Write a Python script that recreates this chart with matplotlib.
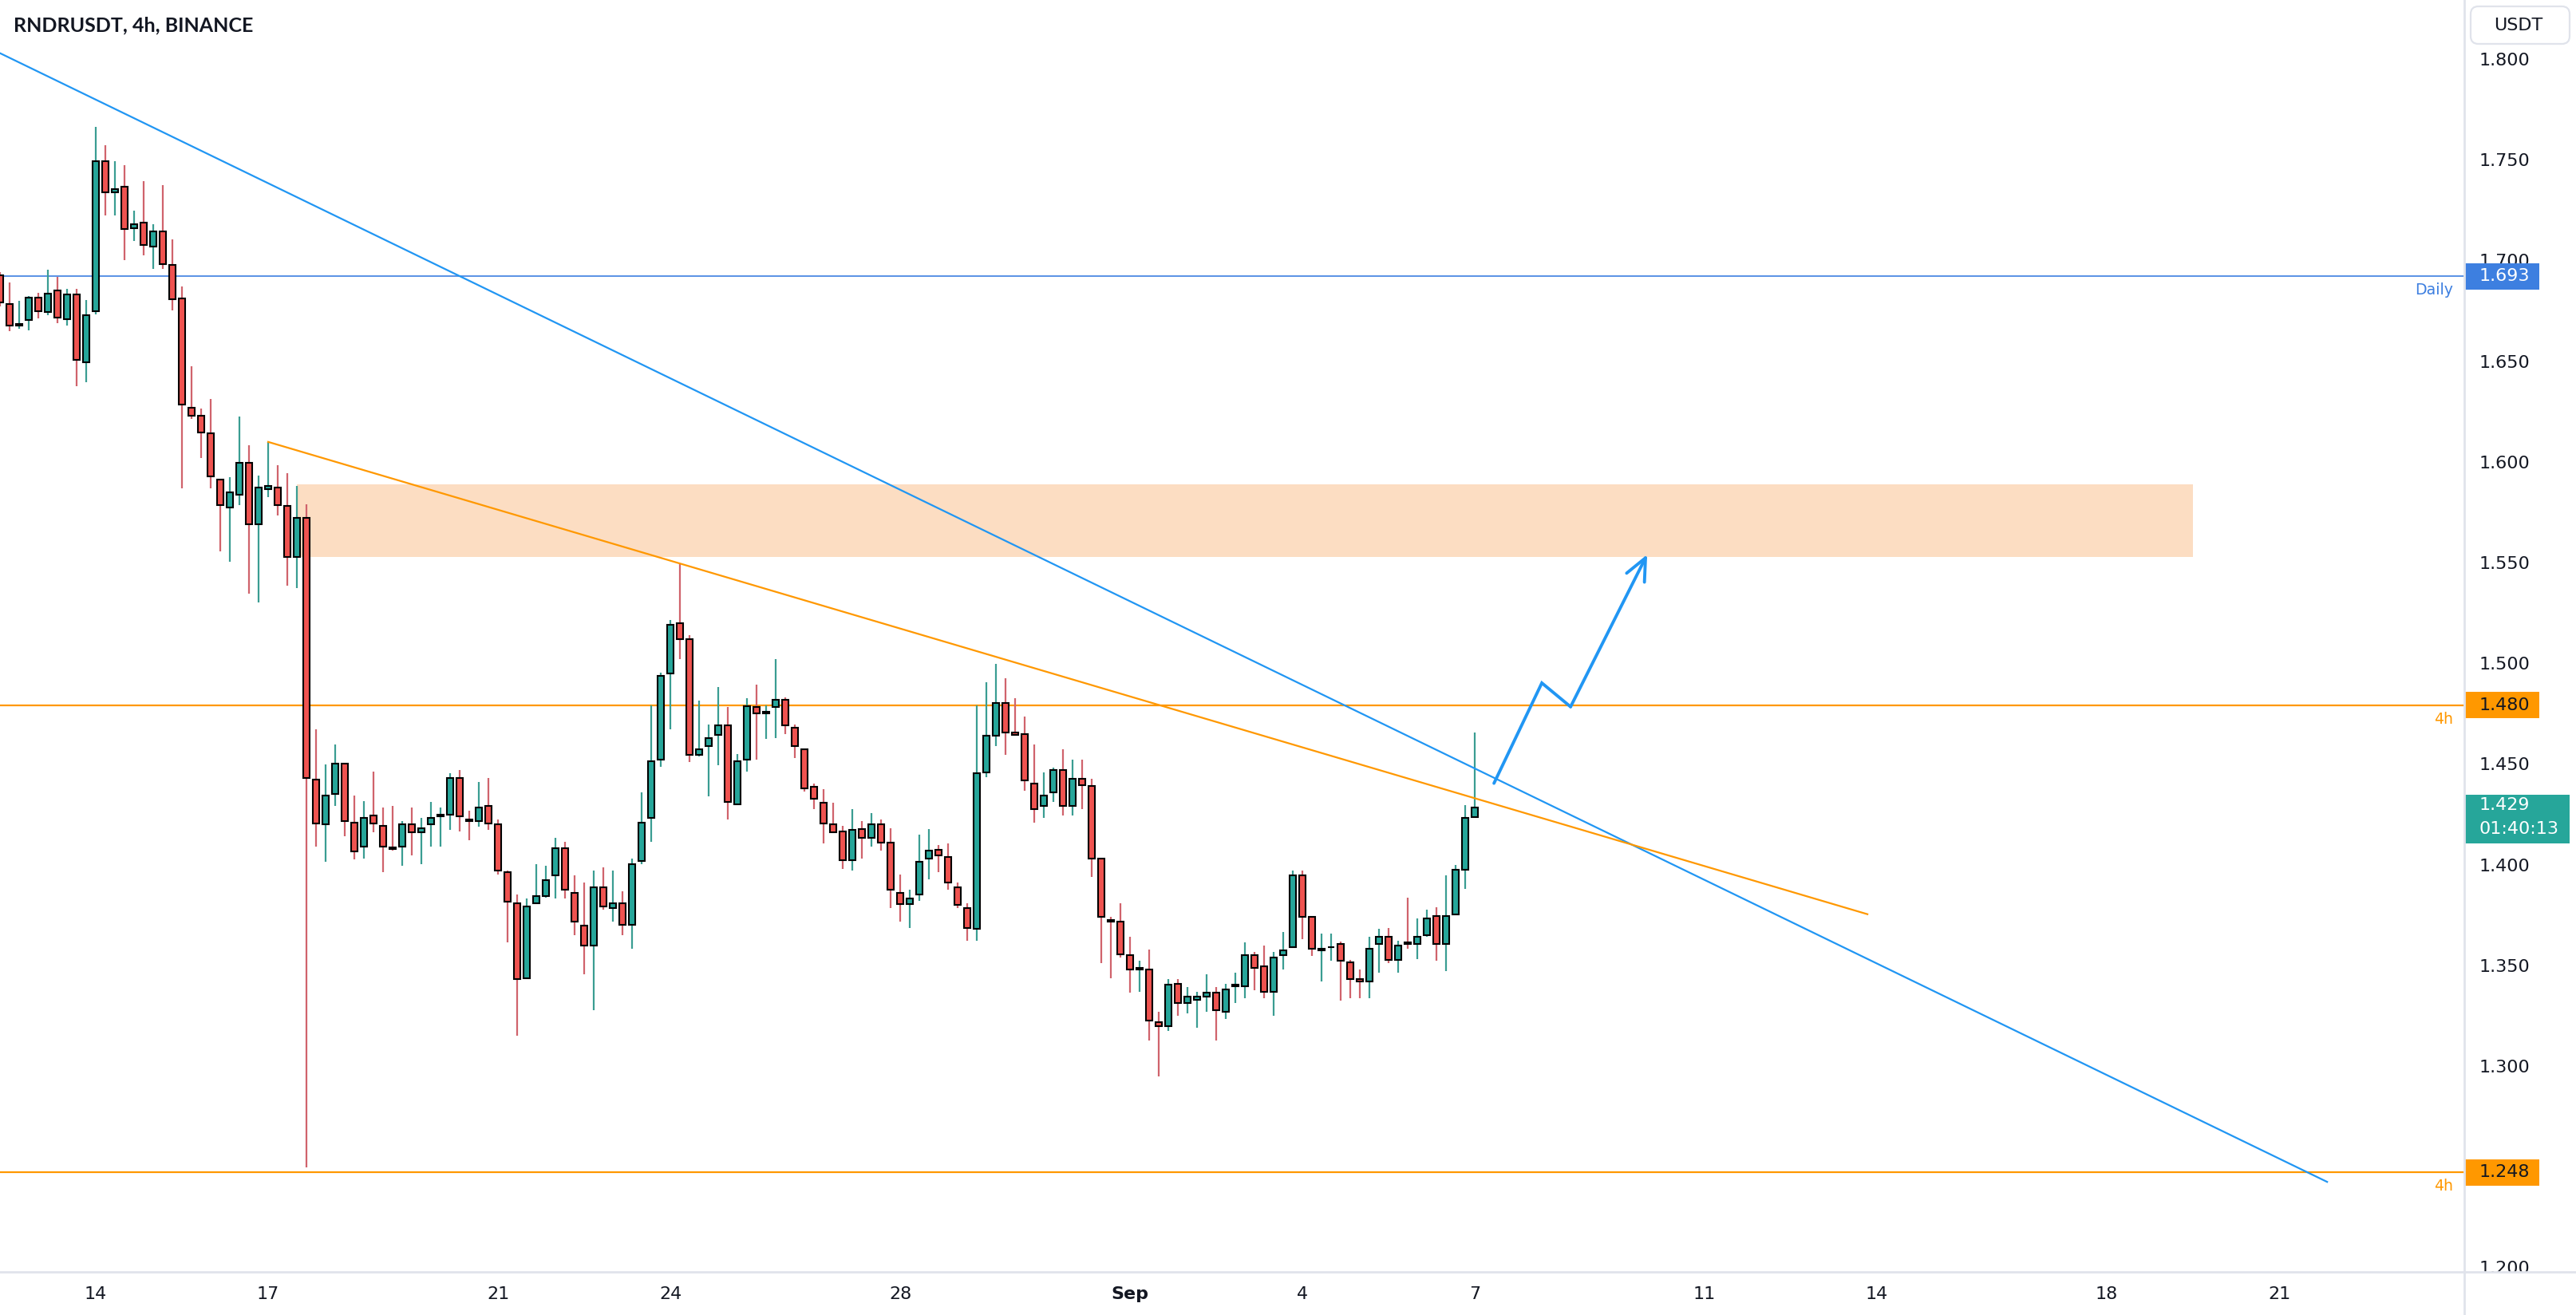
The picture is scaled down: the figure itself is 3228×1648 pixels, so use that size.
import numpy as np
import pandas as pd
import matplotlib
matplotlib.use("Agg")
import matplotlib.pyplot as plt
from matplotlib.patches import Rectangle, FancyBboxPatch
from matplotlib.lines import Line2D
import matplotlib.transforms as mtransforms

# ---------------- data (RNDRUSDT 4h) ----------------
first_candle = "2023-08-12 08:00"
opens = [1.6933, 1.6791, 1.6686, 1.6713, 1.6822, 1.6750, 1.6859, 1.6717, 1.6838, 1.6503,
         1.6754, 1.7502, 1.7346, 1.7373, 1.7167, 1.7197, 1.7076, 1.7153, 1.6984, 1.6818,
         1.6276, 1.6236, 1.6151, 1.5921, 1.5782, 1.5843, 1.6005, 1.5697, 1.5873, 1.5880,
         1.5789, 1.5535, 1.5728, 1.4431, 1.4207, 1.4360, 1.4509, 1.4217, 1.4096, 1.4251,
         1.4200, 1.4092, 1.4096, 1.4207, 1.4167, 1.4207, 1.4248, 1.4258, 1.4437, 1.4231,
         1.4224, 1.4299, 1.4207, 1.3970, 1.3818, 1.3445, 1.3818, 1.3852, 1.3953, 1.4089,
         1.3869, 1.3706, 1.3608, 1.3896, 1.3791, 1.3818, 1.3709, 1.4028, 1.4241, 1.4529,
         1.4956, 1.5206, 1.5128, 1.4553, 1.4597, 1.4654, 1.4698, 1.4309, 1.4529, 1.4790,
         1.4759, 1.4790, 1.4827, 1.4688, 1.4580, 1.4393, 1.4316, 1.4207, 1.4173, 1.4031,
         1.4184, 1.4140, 1.4207, 1.4116, 1.3869, 1.3811, 1.3858, 1.4038, 1.4082, 1.4045,
         1.3896, 1.3791, 1.3689, 1.4468, 1.4648, 1.4810, 1.4664, 1.4658, 1.4410, 1.4299,
         1.4366, 1.4478, 1.4299, 1.4434, 1.4400, 1.4038, 1.3733, 1.3726, 1.3557, 1.3489,
         1.3489, 1.3225, 1.3208, 1.3418, 1.3320, 1.3337, 1.3354, 1.3371, 1.3276, 1.3405,
         1.3405, 1.3557, 1.3503, 1.3378, 1.3557, 1.3598, 1.3953, 1.3750, 1.3581, 1.3598,
         1.3615, 1.3523, 1.3439, 1.3428, 1.3615, 1.3649, 1.3537, 1.3621, 1.3615, 1.3659,
         1.3754, 1.3615, 1.3760, 1.3982, 1.4244]
highs = [1.6950, 1.6899, 1.6808, 1.6832, 1.6849, 1.6960, 1.6926, 1.6866, 1.6866, 1.6811,
         1.7671, 1.7580, 1.7499, 1.7482, 1.7255, 1.7401, 1.7187, 1.7380, 1.7113, 1.6879,
         1.6483, 1.6273, 1.6320, 1.5921, 1.5931, 1.6232, 1.6090, 1.5941, 1.6107, 1.5992,
         1.5951, 1.5890, 1.5799, 1.4681, 1.4505, 1.4603, 1.4509, 1.4353, 1.4322, 1.4471,
         1.4292, 1.4299, 1.4224, 1.4292, 1.4241, 1.4319, 1.4292, 1.4461, 1.4478, 1.4275,
         1.4417, 1.4437, 1.4231, 1.3977, 1.3858, 1.3842, 1.4011, 1.4004, 1.4140, 1.4123,
         1.3953, 1.3919, 1.3977, 1.3994, 1.3977, 1.3875, 1.4038, 1.4366, 1.4800, 1.4962,
         1.5223, 1.5504, 1.5149, 1.4824, 1.4705, 1.4891, 1.4790, 1.4556, 1.4834, 1.4901,
         1.4800, 1.5027, 1.4840, 1.4705, 1.4580, 1.4410, 1.4383, 1.4316, 1.4200, 1.4282,
         1.4224, 1.4265, 1.4231, 1.4190, 1.3960, 1.3885, 1.4157, 1.4184, 1.4106, 1.4113,
         1.3919, 1.3818, 1.4800, 1.4912, 1.5003, 1.4935, 1.4834, 1.4742, 1.4603, 1.4468,
         1.4488, 1.4580, 1.4529, 1.4529, 1.4434, 1.4040, 1.3750, 1.3818, 1.3649, 1.3530,
         1.3588, 1.3276, 1.3439, 1.3439, 1.3401, 1.3378, 1.3462, 1.3401, 1.3418, 1.3473,
         1.3621, 1.3574, 1.3608, 1.3574, 1.3672, 1.3980, 1.3980, 1.3752, 1.3665, 1.3665,
         1.3625, 1.3537, 1.3489, 1.3649, 1.3689, 1.3693, 1.3632, 1.3845, 1.3743, 1.3784,
         1.3796, 1.3955, 1.4006, 1.4302, 1.4663]
lows = [1.6780, 1.6656, 1.6669, 1.6662, 1.6720, 1.6737, 1.6696, 1.6686, 1.6385, 1.6405,
        1.6740, 1.7231, 1.7231, 1.7011, 1.7103, 1.7032, 1.6964, 1.6964, 1.6761, 1.5877,
        1.6222, 1.6026, 1.5877, 1.5562, 1.5511, 1.5792, 1.5355, 1.5308, 1.5833, 1.5741,
        1.5392, 1.5382, 1.2504, 1.4096, 1.4021, 1.4299, 1.4150, 1.4035, 1.4038, 1.4167,
        1.3970, 1.4079, 1.4004, 1.4055, 1.4011, 1.4096, 1.4099, 1.4180, 1.4173, 1.4129,
        1.4197, 1.4180, 1.3960, 1.3621, 1.3157, 1.3440, 1.3815, 1.3845, 1.3842, 1.3842,
        1.3659, 1.3462, 1.3286, 1.3784, 1.3726, 1.3659, 1.3591, 1.4011, 1.4123, 1.4495,
        1.4681, 1.5030, 1.4519, 1.4546, 1.4349, 1.4502, 1.4231, 1.4305, 1.4471, 1.4529,
        1.4631, 1.4637, 1.4658, 1.4539, 1.4370, 1.4285, 1.4113, 1.4163, 1.3987, 1.3980,
        1.4038, 1.4099, 1.4079, 1.3791, 1.3726, 1.3693, 1.3828, 1.3936, 1.3970, 1.3885,
        1.3791, 1.3632, 1.3632, 1.4444, 1.4597, 1.4553, 1.4654, 1.4376, 1.4217, 1.4241,
        1.4319, 1.4251, 1.4251, 1.4285, 1.3946, 1.3520, 1.3445, 1.3547, 1.3371, 1.3378,
        1.3134, 1.2955, 1.3181, 1.3259, 1.3269, 1.3198, 1.3276, 1.3134, 1.3242, 1.3320,
        1.3344, 1.3384, 1.3344, 1.3259, 1.3486, 1.3595, 1.3638, 1.3554, 1.3428, 1.3530,
        1.3334, 1.3344, 1.3344, 1.3344, 1.3473, 1.3520, 1.3473, 1.3591, 1.3540, 1.3649,
        1.3531, 1.3479, 1.3760, 1.3886, 1.4244]
closes = [1.6798, 1.6683, 1.6693, 1.6822, 1.6754, 1.6845, 1.6723, 1.6838, 1.6513, 1.6737,
          1.7502, 1.7346, 1.7363, 1.7164, 1.7187, 1.7086, 1.7153, 1.6991, 1.6815, 1.6293,
          1.6236, 1.6154, 1.5934, 1.5792, 1.5856, 1.6005, 1.5697, 1.5880, 1.5887, 1.5792,
          1.5535, 1.5728, 1.4437, 1.4214, 1.4350, 1.4509, 1.4224, 1.4075, 1.4241, 1.4214,
          1.4096, 1.4086, 1.4207, 1.4167, 1.4190, 1.4241, 1.4258, 1.4437, 1.4248, 1.4224,
          1.4292, 1.4214, 1.3977, 1.3825, 1.3439, 1.3801, 1.3852, 1.3930, 1.4089, 1.3885,
          1.3726, 1.3608, 1.3896, 1.3801, 1.3818, 1.3709, 1.4011, 1.4217, 1.4522, 1.4945,
          1.5199, 1.5128, 1.4553, 1.4580, 1.4637, 1.4698, 1.4319, 1.4522, 1.4793, 1.4759,
          1.4766, 1.4827, 1.4698, 1.4597, 1.4387, 1.4336, 1.4214, 1.4167, 1.4031, 1.4180,
          1.4140, 1.4207, 1.4116, 1.3885, 1.3811, 1.3842, 1.4021, 1.4079, 1.4055, 1.3919,
          1.3808, 1.3692, 1.4461, 1.4648, 1.4810, 1.4664, 1.4654, 1.4427, 1.4285, 1.4350,
          1.4478, 1.4299, 1.4434, 1.4404, 1.4038, 1.3750, 1.3726, 1.3564, 1.3489, 1.3496,
          1.3232, 1.3208, 1.3412, 1.3320, 1.3351, 1.3351, 1.3371, 1.3286, 1.3388, 1.3412,
          1.3557, 1.3496, 1.3378, 1.3547, 1.3581, 1.3953, 1.3750, 1.3591, 1.3591, 1.3598,
          1.3530, 1.3439, 1.3429, 1.3591, 1.3649, 1.3537, 1.3608, 1.3615, 1.3649, 1.3740,
          1.3615, 1.3754, 1.3982, 1.4240, 1.4290]

# horizontal levels
level_prices = [1.693, 1.480, 1.248]
level_labels = ["Daily", "4h", "4h"]

# trend lines: (time, price)
blue_trend_times = ["2023-08-12 08:00", "2023-09-21 20:00"]
blue_trend_prices = [1.8037, 1.2433]
orange_trend_times = ["2023-08-17 00:00", "2023-09-13 20:00"]
orange_trend_prices = [1.6107, 1.3762]

# supply zone
zone_times = ["2023-08-17 12:00", "2023-09-19 12:00"]
zone_prices = [1.5534, 1.5895]

# projected path
path_times = ["2023-09-07 08:00", "2023-09-08 04:00", "2023-09-08 16:00", "2023-09-10 00:00"]
path_prices = [1.4412, 1.4910, 1.4792, 1.5548]

date_ticks = ["2023-08-14", "2023-08-17", "2023-08-21", "2023-08-24", "2023-08-28", "2023-09-01",
              "2023-09-04", "2023-09-07", "2023-09-11", "2023-09-14", "2023-09-18", "2023-09-21"]
date_tick_labels = ["14", "17", "21", "24", "28", "Sep", "4", "7", "11", "14", "18", "21"]
price_ticks = [1.20, 1.25, 1.30, 1.35, 1.40, 1.45, 1.50, 1.55, 1.60, 1.65, 1.70, 1.75, 1.80]
countdown = "01:40:13"

# ---------------- helpers ----------------
ORIGIN = pd.Timestamp("2023-08-14")


def d(ts):
    return (pd.Timestamp(ts) - ORIGIN) / pd.Timedelta(days=1)


times = pd.date_range(first_candle, periods=len(opens), freq="4h")
xs = np.array([d(t) for t in times])
o = np.array(opens); h = np.array(highs); l = np.array(lows); c = np.array(closes)
up = c >= o

UP = "#26A69A"; DN = "#EF5350"
UPW = "#3A9D92"; DNW = "#D0636C"
BLUE = "#2196F3"; LBLUE = "#3D7FE0"; ORANGE = "#FF9800"
TXT = "#131722"; SEP = "#E0E3EB"

W, H, DPI = 3228, 1648, 200
fig = plt.figure(figsize=(W / DPI, H / DPI), dpi=DPI)
fig.patch.set_facecolor("white")
pr = 3088 / W
pb = 54 / H
ylo, yhi = 1.1986, 1.8301

ax = fig.add_axes([0, pb, pr, 1 - pb])
ax.set_xlim(d(first_candle), 41.22)
ax.set_ylim(ylo, yhi)
for s in ax.spines.values():
    s.set_visible(False)
ax.set_yticks([])
ax.set_xticks([d(t) for t in date_ticks])
ax.set_xticklabels(date_tick_labels)
ax.tick_params(axis="x", length=0, pad=6.5, labelsize=8, colors=TXT)
for lab in ax.get_xticklabels():
    if lab.get_text() == "Sep":
        lab.set_fontweight("bold")

# zone
zx0, zx1 = d(zone_times[0]), d(zone_times[1])
ax.add_patch(Rectangle((zx0, zone_prices[0]), zx1 - zx0, zone_prices[1] - zone_prices[0],
                       facecolor="#FCDDC2", edgecolor="none", zorder=1))

# levels
ax.axhline(level_prices[0], color=LBLUE, lw=0.6, zorder=1.5)
ax.axhline(level_prices[1], color=ORANGE, lw=0.8, zorder=1.5)
ax.axhline(level_prices[2], color=ORANGE, lw=0.8, zorder=1.5)
side_tr = mtransforms.blended_transform_factory(ax.transAxes, ax.transData)
for p, lab, col in zip(level_prices, level_labels, [LBLUE, ORANGE, ORANGE]):
    ax.text(0.9955, p - 0.0069, lab, transform=side_tr, ha="right", va="center",
            fontsize=6.8, color=col)

# candles
bw = 0.12
ax.vlines(xs, l, h, colors=np.where(up, UPW, DNW), linewidth=0.8, zorder=2)
bodies = np.maximum(np.abs(c - o), 0.0002)
ax.bar(xs, bodies, bottom=np.minimum(o, c), width=bw, color=np.where(up, UP, DN),
       edgecolor="black", linewidth=0.75, zorder=3)

# trend lines
ax.plot([d(t) for t in blue_trend_times], blue_trend_prices, color=BLUE, lw=0.8, zorder=4)
ax.plot([d(t) for t in orange_trend_times], orange_trend_prices, color=ORANGE, lw=0.8, zorder=4)

# projected path
px = [d(t) for t in path_times]
ax.plot(px[:3], path_prices[:3], color=BLUE, lw=1.4, solid_joinstyle="miter",
        solid_capstyle="round", zorder=5)
ax.annotate("", xy=(px[3], path_prices[3]), xytext=(px[2], path_prices[2]),
            arrowprops=dict(arrowstyle="->,head_length=1.0,head_width=0.45", color=BLUE,
                            lw=1.4, shrinkA=0, shrinkB=0), zorder=5)

# separators
fig.add_artist(Line2D([0, 1], [pb, pb], transform=fig.transFigure, color=SEP, lw=1.0))
fig.add_artist(Line2D([pr, pr], [0, 1], transform=fig.transFigure, color=SEP, lw=1.0))

# price scale
ax2 = fig.add_axes([pr, pb, 1 - pr, 1 - pb])
ax2.set_xlim(0, 1)
ax2.set_ylim(ylo, yhi)
ax2.axis("off")
tx = (3107 - 3088) / (W - 3088)
for p in price_ticks:
    t = ax2.text(tx, p, f"{p:.3f}", ha="left", va="center", fontsize=8, color=TXT)
    t.set_clip_on(True)
    t.set_clip_box(ax2.bbox)

tag_h = 0.0131
tag_w = (3182 - 3088) / (W - 3088)
for p, col, tcol in zip(level_prices, [LBLUE, ORANGE, ORANGE], ["white", TXT, TXT]):
    ax2.add_patch(Rectangle((0, p - tag_h / 2), tag_w, tag_h, facecolor=col,
                            edgecolor="none", zorder=5))
    ax2.text(tx, p, f"{p:.3f}", ha="left", va="center", fontsize=8, color=tcol, zorder=6)

last = closes[-1]
ax2.add_patch(Rectangle((0, last - 0.0178), (3220 - 3088) / (W - 3088), 0.0242,
                        facecolor=UP, edgecolor="none", zorder=5))
ax2.text(tx, last + 0.0012, f"{last:.3f}", ha="left", va="center", fontsize=8,
         color="white", zorder=6)
ax2.text(tx, last - 0.0105, countdown, ha="left", va="center", fontsize=8,
         color="white", zorder=6)

# currency button
fig.add_artist(FancyBboxPatch((3096 / W, 1 - 55 / H), 124 / W, 47 / H,
                              boxstyle="round,pad=0,rounding_size=0.003",
                              mutation_aspect=W / H, transform=fig.transFigure,
                              facecolor="white", edgecolor=SEP, lw=0.8))
fig.text(3156 / W, 1 - 32 / H, "USDT", ha="center", va="center", fontsize=8, color=TXT)

# title
fig.text(17 / W, 1 - 32 / H, "RNDRUSDT, 4h, BINANCE", ha="left", va="center",
         fontsize=9, fontweight="bold", color=TXT, family=["Lato", "DejaVu Sans"])

fig.savefig("out.png", dpi=DPI, facecolor="white")
